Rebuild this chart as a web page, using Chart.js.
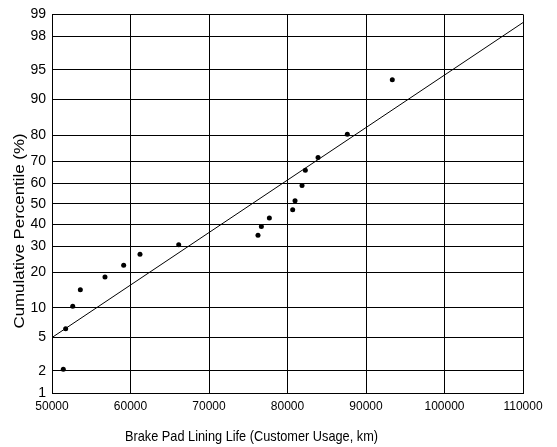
<!DOCTYPE html>
<html>
<head>
<meta charset="utf-8">
<script src="https://cdn.jsdelivr.net/npm/chart.js@4"></script>
<style>
  body { margin: 0; background: #fff; }
  canvas { display: block; }
</style>
</head>
<body>
<canvas id="chart" width="557" height="447"></canvas>
<script>
// Data
const lifeKm = [51440, 51740, 52640, 53610, 56750, 59130, 61210, 66140, 76240, 76670,
                77690, 80660, 80960, 81850, 82270, 83890, 87620, 93350];
const cumPct = [2.1, 6.2, 10.4, 14.5, 18.4, 22.5, 26.7, 30.7, 34.9, 39.0,
                43.0, 47.0, 51.5, 58.9, 66.0, 71.5, 80.3, 93.6];

// fitted line end points
const fitKm = [50000, 110000];
const fitPct = [5, 98.7];

const pctTicks = [1, 2, 5, 10, 20, 30, 40, 50, 60, 70, 80, 90, 95, 98, 99];
const kmTicks = [50000, 60000, 70000, 80000, 90000, 100000, 110000];

const xTitle = 'Brake Pad Lining Life (Customer Usage, km)';
const yTitle = 'Cumulative Percentile (%)';

// inverse normal CDF (Acklam) -> probability paper scale
function normInv(p) {
    const a = [-3.969683028665376e+01, 2.209460984245205e+02, -2.759285104469687e+02, 1.383577518672690e+02, -3.066479806614716e+01, 2.506628277459239e+00];
    const b = [-5.447609879822406e+01, 1.615858368580409e+02, -1.556989798598866e+02, 6.680131188771972e+01, -1.328068155288572e+01];
    const c = [-7.784894002430293e-03, -3.223964580411365e-01, -2.400758277161838e+00, -2.549732539343734e+00, 4.374664141464968e+00, 2.938163982698783e+00];
    const d = [7.784695709041462e-03, 3.224671290700398e-01, 2.445134137142996e+00, 3.754408661907416e+00];
    const pl = 0.02425;
    let q, r;
    if (p < pl) {
        q = Math.sqrt(-2 * Math.log(p));
        return (((((c[0]*q+c[1])*q+c[2])*q+c[3])*q+c[4])*q+c[5]) / ((((d[0]*q+d[1])*q+d[2])*q+d[3])*q+1);
    }
    if (p <= 1 - pl) {
        q = p - 0.5; r = q * q;
        return (((((a[0]*r+a[1])*r+a[2])*r+a[3])*r+a[4])*r+a[5])*q / (((((b[0]*r+b[1])*r+b[2])*r+b[3])*r+b[4])*r+1);
    }
    q = Math.sqrt(-2 * Math.log(1 - p));
    return -(((((c[0]*q+c[1])*q+c[2])*q+c[3])*q+c[4])*q+c[5]) / ((((d[0]*q+d[1])*q+d[2])*q+d[3])*q+1);
}
const z = (pct) => normInv(pct / 100);

const pointData = lifeKm.map((km, i) => ({ x: km, y: z(cumPct[i]) }));
const fitData = fitKm.map((km, i) => ({ x: km, y: z(fitPct[i]) }));

// axis titles drawn by hand (they sit off-centre in the original)
const titlePlugin = {
    id: 'titles',
    afterDraw(chart) {
        const ctx = chart.ctx;
        ctx.save();
        ctx.fillStyle = '#000';
        ctx.font = '15px "Liberation Sans", Arial, sans-serif';
        ctx.textBaseline = 'alphabetic';

        // x title
        let w = ctx.measureText(xTitle).width;
        ctx.save();
        ctx.translate(125, 441);
        ctx.scale(253 / w, 1);
        ctx.textAlign = 'left';
        ctx.fillText(xTitle, 0, 0);
        ctx.restore();

        // y title
        w = ctx.measureText(yTitle).width;
        ctx.save();
        ctx.translate(24, 231);
        ctx.rotate(-Math.PI / 2);
        ctx.scale(195 / w, 1);
        ctx.textAlign = 'center';
        ctx.fillText(yTitle, 0, 0);
        ctx.restore();

        ctx.restore();
    }
};

new Chart(document.getElementById('chart'), {
    type: 'scatter',
    data: {
        datasets: [{
            label: 'Data',
            data: pointData,
            pointRadius: 2.5,
            pointBackgroundColor: '#000',
            pointBorderColor: '#000',
            pointBorderWidth: 0,
            showLine: false
        }, {
            label: 'Fit',
            data: fitData,
            showLine: true,
            pointRadius: 0,
            borderColor: '#000',
            borderWidth: 1
        }]
    },
    options: {
        responsive: false,
        animation: false,
        layout: { padding: { left: 0, top: 13, right: 34, bottom: 0 } },
        plugins: {
            legend: { display: false },
            tooltip: { enabled: false }
        },
        scales: {
            x: {
                type: 'linear',
                min: kmTicks[0],
                max: kmTicks[kmTicks.length - 1],
                afterBuildTicks: (scale) => { scale.ticks = kmTicks.map(v => ({ value: v })); },
                afterFit: (scale) => { scale.height = 54; },
                grid: { color: '#000', lineWidth: 1, drawTicks: false },
                border: { color: '#000', width: 1 },
                ticks: {
                    color: '#000',
                    padding: 6,
                    maxRotation: 0,
                    font: { family: '"Liberation Sans", Arial, sans-serif', size: 12 },
                    callback: (v) => String(v)
                }
            },
            y: {
                type: 'linear',
                min: z(pctTicks[0]),
                max: z(pctTicks[pctTicks.length - 1]),
                afterBuildTicks: (scale) => { scale.ticks = pctTicks.map(p => ({ value: z(p) })); },
                afterFit: (scale) => { scale.width = 52; },
                grid: { color: '#000', lineWidth: 1, drawTicks: false },
                border: { color: '#000', width: 1 },
                ticks: {
                    color: '#000',
                    padding: 6,
                    font: { family: '"Liberation Sans", Arial, sans-serif', size: 14 },
                    callback: (v, i) => String(pctTicks[i])
                }
            }
        }
    },
    plugins: [titlePlugin]
});
</script>
</body>
</html>
